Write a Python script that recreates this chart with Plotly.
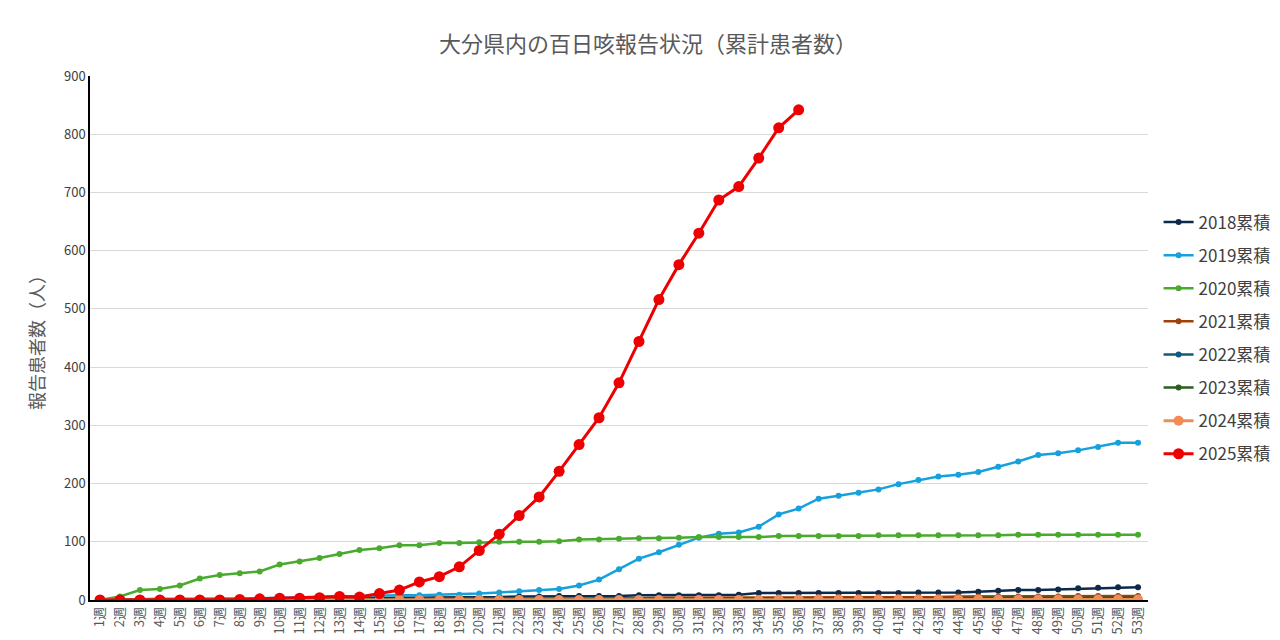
import plotly.graph_objects as go

weeks = [f"{i}週" for i in range(1, 54)]

y2018 = [0, 0, 0, 0, 1, 1, 1, 1, 1, 1, 2, 2, 2, 3, 3, 4, 4, 4, 5, 5, 5, 6, 6, 7, 7, 7, 7,
         8, 8, 8, 8, 8, 9, 12, 12, 12, 12, 12, 12, 12, 12, 13, 13, 13, 14, 16, 17, 17, 18, 20, 21, 22, 22]
y2019 = [0, 1, 2, 2, 2, 2, 2, 3, 3, 4, 4, 5, 6, 7, 7, 8, 8, 9, 9, 11, 13, 15, 17, 19, 25, 35, 53,
         71, 82, 95, 107, 114, 116, 126, 147, 157, 174, 179, 184, 190, 199, 206, 212, 215, 220, 229,
         238, 249, 252, 257, 263, 270, 270]
y2020 = [0, 6, 17, 19, 25, 37, 43, 46, 49, 61, 66, 72, 79, 86, 89, 94, 94, 98, 98, 99, 100, 100,
         100, 101, 104, 104, 105, 106, 106, 107, 108, 108, 108, 108, 110, 110, 110, 110, 110, 111,
         111, 111, 111, 111, 111, 111, 112, 112, 112, 112, 112, 112, 112]
y2021 = [0, 0, 0, 0, 0, 0, 0, 0, 0, 1, 1, 1, 1, 1, 1, 1, 2, 2, 2, 2, 2, 2, 3, 3, 3, 3, 3, 3, 4,
         4, 4, 4, 4, 4, 4, 4, 5, 5, 5, 5, 5, 5, 5, 6, 6, 6, 6, 6, 6, 7, 7, 7, 7]
y2022 = [0] * 53
y2023 = [0, 0, 0, 0, 0, 0, 0, 0, 0, 0, 0, 0, 0, 0, 0, 0, 1, 1, 1, 1, 1, 1, 1, 1, 1, 2, 2, 2, 2,
         2, 2, 2, 2, 2, 3, 3, 3, 3, 3, 3, 3, 3, 3, 3, 4, 4, 4, 4, 4, 4, 4, 4, 4]
y2024 = [0, 0, 0, 0, 0, 0, 0, 0, 0, 0, 0, 0, 0, 0, 0, 0, 0, 0, 0, 0, 0, 0, 0, 0, 0, 0, 0, 0, 0,
         0, 0, 0, 0, 0, 1, 1, 1, 1, 1, 1, 1, 1, 1, 1, 1, 1, 1, 1, 1, 1, 1, 1, 1]
y2025 = [0, 0, 0, 0, 0, 0, 0, 1, 2, 3, 3, 4, 6, 5, 11, 17, 31, 40, 57, 85, 113, 145, 177, 221,
         267, 313, 373, 444, 516, 576, 630, 687, 710, 759, 811, 842]

series = [
    ("2018累積", y2018, "#0d2a4a", 6, 2.5),
    ("2019累積", y2019, "#16a0dc", 6, 2.5),
    ("2020累積", y2020, "#4aaa2e", 6, 2.5),
    ("2021累積", y2021, "#a0400a", 6, 2.5),
    ("2022累積", y2022, "#135a7a", 6, 2.5),
    ("2023累積", y2023, "#2a5e1c", 6, 2.5),
    ("2024累積", y2024, "#f08c58", 10, 3),
    ("2025累積", y2025, "#ee0000", 11, 3),
]

fig = go.Figure()
for name, vals, color, msize, lw in series:
    fig.add_trace(go.Scatter(x=weeks[:len(vals)], y=vals, name=name, mode="lines+markers",
                             legendgroup=name,
                             line=dict(color=color, width=lw),
                             marker=dict(color=color, size=msize)))

fig.update_layout(
    width=1280, height=640,
    title=dict(text="大分県内の百日咳報告状況（累計患者数）", x=0.5, y=0.955,
               font=dict(size=22, color="#595959")),
    font=dict(family="Noto Sans CJK JP", color="#595959"),
    plot_bgcolor="white", paper_bgcolor="white",
    margin=dict(l=82, r=140, t=68, b=48),
    legend=dict(x=1.01, y=0.5, yanchor="middle", font=dict(size=17, color="#404040"),
                tracegroupgap=8, itemwidth=30),
    xaxis=dict(tickangle=-90, tickfont=dict(size=13, color="#595959"), showgrid=False,
               showline=True, linecolor="black", linewidth=1.5, range=[-0.5, 52.5]),
    yaxis=dict(range=[0, 900], dtick=100, gridcolor="#d9d9d9", showline=True,
               linecolor="black", linewidth=1.5, tickfont=dict(size=13, color="#404040"),
               title=dict(text="報告患者数（人）", font=dict(size=18, color="#595959")),
               zeroline=False),
)

fig.write_html("out.html")
